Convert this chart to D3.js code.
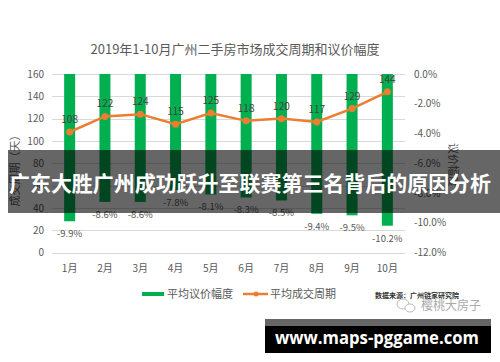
<!DOCTYPE html>
<html lang="zh">
<head>
    <meta charset="UTF-8">
    <title>成交周期和议价幅度</title>
    <script src="https://d3js.org/d3.v7.min.js"></script>
    <style>
        body { margin: 0; background: #fff; }
        svg { display: block; }
        text { font-family: "Noto Sans CJK SC", "Noto Sans", sans-serif; }
        .tick-label { font-size: 10px; fill: #595959; }
        .grid { stroke: #d9d9d9; stroke-width: 1px; }
        .cycle-line { fill: none; stroke: #ed7d31; stroke-width: 2.5px; }
    </style>
</head>
<body>
    <svg width="500" height="362"></svg>

    <script>
        // Data
        const months = ["1月", "2月", "3月", "4月", "5月", "6月", "7月", "8月", "9月", "10月"];
        const cycleDays = [108, 122, 124, 115, 125, 118, 120, 117, 129, 144];
        const bargainPct = [-9.9, -8.6, -8.6, -7.8, -8.1, -8.3, -8.5, -9.4, -9.5, -10.2];
        const leftTicks = [0, 20, 40, 60, 80, 100, 120, 140, 160];
        const rightTicks = [0, -2, -4, -6, -8, -10, -12];

        const svg = d3.select("svg");
        svg.append("rect").attr("width", 500).attr("height", 362).attr("fill", "#fff");

        // Scales
        const x = d3.scaleBand().domain(months).range([52, 405]).padding(0);
        const yL = d3.scaleLinear().domain([0, 160]).range([252.5, 74]);
        const yR = d3.scaleLinear().domain([-12, 0]).range([252.5, 74]);
        const cx = m => x(m) + x.bandwidth() / 2;
        const barW = 11;

        // Title
        svg.append("text")
            .attr("x", 235)
            .attr("y", 54)
            .attr("text-anchor", "middle")
            .style("font-size", "13px")
            .style("fill", "#595959")
            .text("2019年1-10月广州二手房市场成交周期和议价幅度");

        // Gridlines
        svg.append("g")
            .selectAll("line")
            .data(leftTicks)
            .enter().append("line")
            .attr("class", "grid")
            .attr("x1", 52)
            .attr("x2", 405)
            .attr("y1", d => Math.round(yL(d)) + 0.5)
            .attr("y2", d => Math.round(yL(d)) + 0.5);

        // Left axis
        const axisL = d3.axisLeft(yL).tickValues(leftTicks).tickSize(0).tickPadding(8);
        const gL = svg.append("g").attr("transform", "translate(52,0)").call(axisL);
        gL.select(".domain").remove();
        gL.selectAll("text").attr("class", "tick-label").attr("font-family", null).attr("font-size", null);

        // Right axis
        const axisR = d3.axisRight(yR).tickValues(rightTicks).tickSize(0).tickPadding(9)
            .tickFormat(d => d.toFixed(1) + "%");
        const gR = svg.append("g").attr("transform", "translate(405,0)").call(axisR);
        gR.select(".domain").remove();
        gR.selectAll("text").attr("class", "tick-label").attr("font-family", null).attr("font-size", null);

        // Month labels
        const axisX = d3.axisBottom(x).tickSize(0).tickPadding(12);
        const gX = svg.append("g").attr("transform", "translate(0,252.5)").call(axisX);
        gX.select(".domain").remove();
        gX.selectAll("text").attr("class", "tick-label").attr("font-family", null).attr("font-size", null);

        // Axis titles
        svg.append("text")
            .attr("transform", "translate(19,168) rotate(-90)")
            .attr("text-anchor", "middle")
            .style("font-size", "11px")
            .style("fill", "#595959")
            .text("成交周期（天）");

        svg.append("text")
            .attr("transform", "translate(449,165) rotate(90)")
            .attr("text-anchor", "middle")
            .style("font-size", "11px")
            .style("fill", "#595959")
            .text("议价幅度");

        // Bars (bargain %)
        svg.append("g")
            .selectAll("rect")
            .data(months)
            .enter().append("rect")
            .attr("x", m => cx(m) - barW / 2)
            .attr("y", yR(0))
            .attr("width", barW)
            .attr("height", (m, i) => yR(bargainPct[i]) - yR(0))
            .attr("fill", "#00b050");

        svg.append("g")
            .selectAll("text")
            .data(months)
            .enter().append("text")
            .attr("x", m => cx(m))
            .attr("y", (m, i) => yR(bargainPct[i]) + 16)
            .attr("text-anchor", "middle")
            .style("font-size", "9.5px")
            .style("fill", "#595959")
            .text((m, i) => bargainPct[i].toFixed(1) + "%");

        // Line (cycle days)
        svg.append("path")
            .datum(months)
            .attr("class", "cycle-line")
            .attr("d", d3.line()
                .x(m => cx(m))
                .y((m, i) => yL(cycleDays[i]))
            );

        svg.append("g")
            .selectAll("circle")
            .data(months)
            .enter().append("circle")
            .attr("cx", m => cx(m))
            .attr("cy", (m, i) => yL(cycleDays[i]))
            .attr("r", 3.5)
            .attr("fill", "#ed7d31");

        svg.append("g")
            .selectAll("text")
            .data(months)
            .enter().append("text")
            .attr("x", m => cx(m))
            .attr("y", (m, i) => yL(cycleDays[i]) - 9)
            .attr("text-anchor", "middle")
            .style("font-size", "10px")
            .style("fill", "#404040")
            .text((m, i) => cycleDays[i]);

        // Legend
        svg.append("rect")
            .attr("x", 142).attr("y", 292)
            .attr("width", 22).attr("height", 4)
            .attr("fill", "#00b050");
        svg.append("text")
            .attr("x", 167).attr("y", 297.5)
            .style("font-size", "11px").style("fill", "#595959")
            .text("平均议价幅度");
        svg.append("line")
            .attr("x1", 243).attr("x2", 268)
            .attr("y1", 294).attr("y2", 294)
            .attr("stroke", "#ed7d31").attr("stroke-width", 2.5);
        svg.append("circle")
            .attr("cx", 256).attr("cy", 294).attr("r", 2.5)
            .attr("fill", "#ed7d31");
        svg.append("text")
            .attr("x", 270).attr("y", 297.5)
            .style("font-size", "11px").style("fill", "#595959")
            .text("平均成交周期");

        // Source + account mark
        svg.append("text")
            .attr("x", 375).attr("y", 297.5)
            .style("font-size", "7px").style("font-weight", "bold").style("fill", "#333")
            .text("数据来源：广州链家研究院");
        svg.append("ellipse")
            .attr("cx", 403).attr("cy", 304).attr("rx", 6).attr("ry", 5)
            .attr("fill", "none").attr("stroke", "#bbb");
        svg.append("ellipse")
            .attr("cx", 410).attr("cy", 308).attr("rx", 5).attr("ry", 4)
            .attr("fill", "#fff").attr("stroke", "#bbb");
        svg.append("text")
            .attr("x", 421).attr("y", 310)
            .style("font-size", "12px").style("fill", "#aaa")
            .text("樱桃大房子");

        // Headline overlay
        svg.append("rect")
            .attr("x", 8).attr("y", 150)
            .attr("width", 492).attr("height", 63)
            .attr("fill", "rgba(0,0,0,0.6)");
        svg.append("text")
            .attr("x", 9).attr("y", 191)
            .attr("textLength", 482)
            .attr("lengthAdjust", "spacingAndGlyphs")
            .style("font-size", "21px").style("font-weight", "bold").style("fill", "#fff")
            .text("广东大胜广州成功跃升至联赛第三名背后的原因分析");

        // Site overlay
        svg.append("rect")
            .attr("x", 265).attr("y", 319)
            .attr("width", 226).attr("height", 34)
            .attr("fill", "#000");
        svg.append("rect")
            .attr("x", 265).attr("y", 319)
            .attr("width", 226).attr("height", 7)
            .attr("fill", "#666");
        svg.append("text")
            .attr("x", 275).attr("y", 344)
            .attr("textLength", 204)
            .attr("lengthAdjust", "spacingAndGlyphs")
            .style("font-family", "'Open Sans', sans-serif")
            .style("font-size", "18px").style("font-weight", "bold").style("fill", "#fff")
            .text("www.maps-pggame.com");
    </script>
</body>
</html>
